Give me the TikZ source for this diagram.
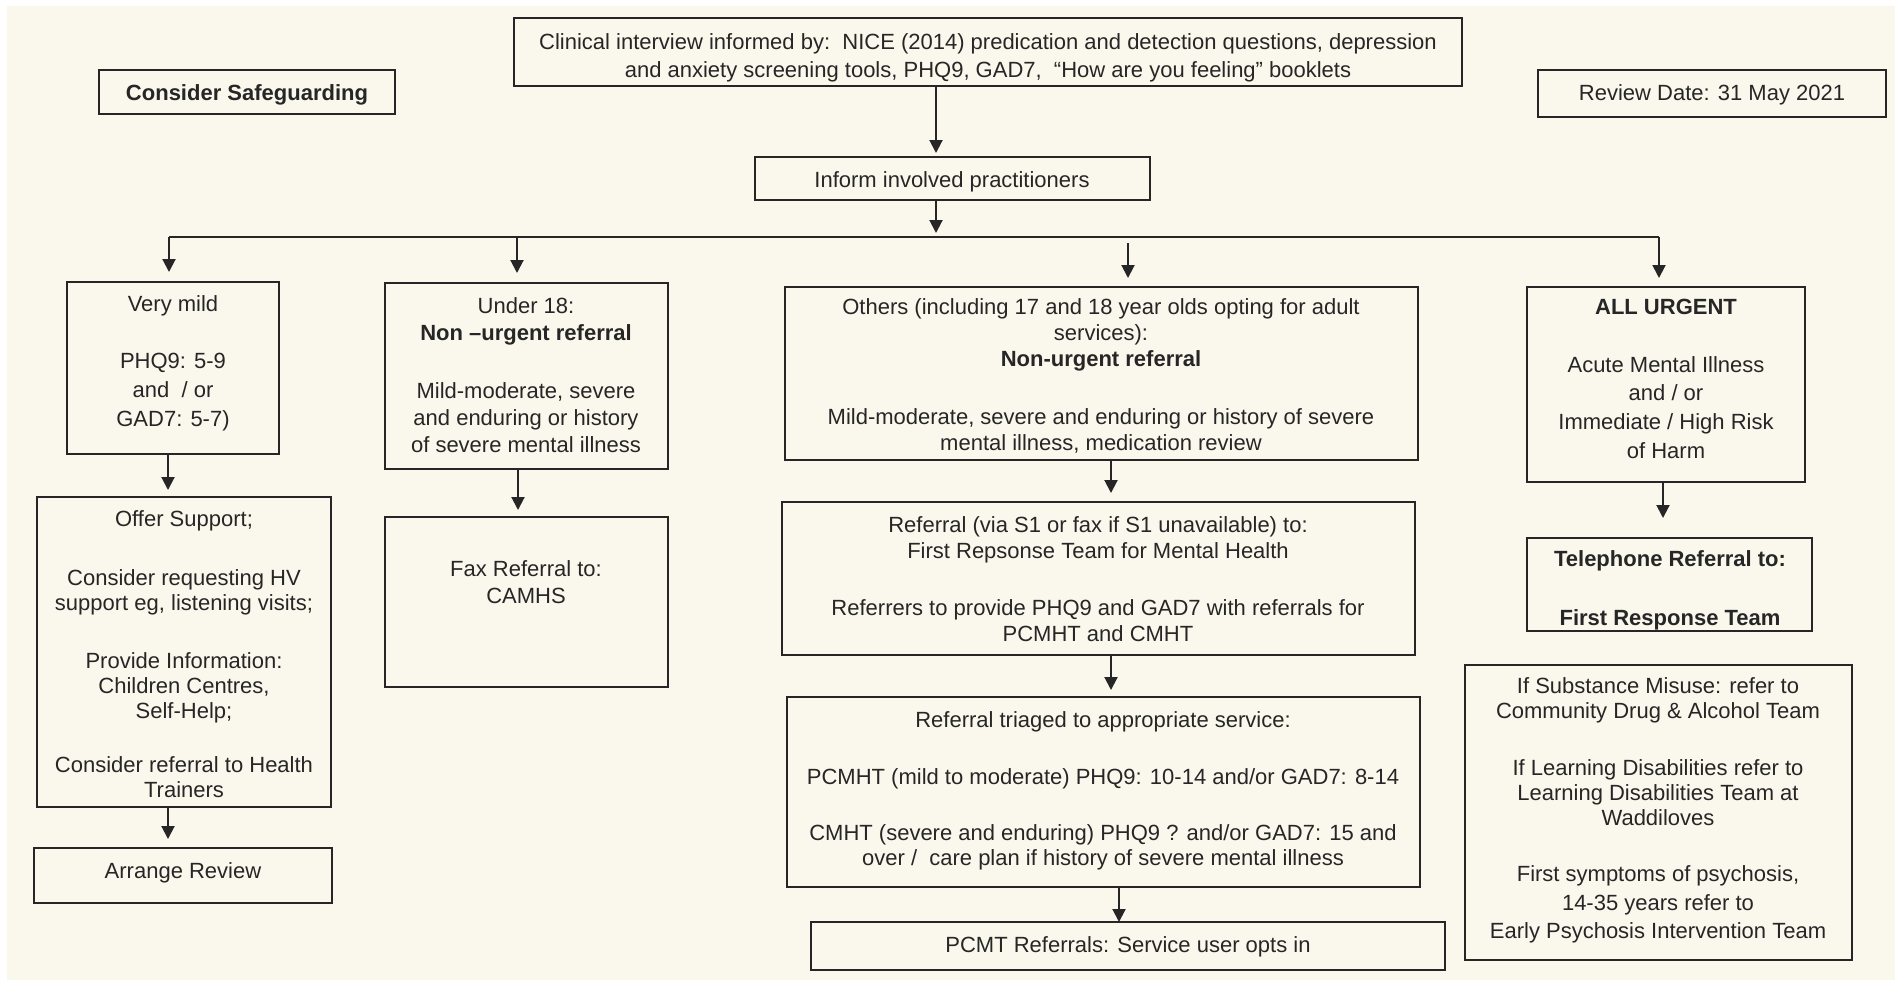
\documentclass[tikz,border=0pt]{standalone}
\usepackage{fontspec}
\setmainfont{Liberation Sans}
\usetikzlibrary{arrows.meta}
\definecolor{paper}{RGB}{250,248,236}
\definecolor{ink}{RGB}{38,38,38}

% rectangle node given by its top-left and bottom-right corners (in px units)
\newcommand\flowbox[5]{\node[box, minimum width={(#4-#2)*0.5pt}, minimum height={(#5-#3)*0.5pt}] (#1) at (#2,#3) {};}

\begin{document}
\begin{tikzpicture}[x=0.5pt,y=-0.5pt,
  box/.style={draw=ink, line width=1.1pt, anchor=north west, inner sep=0pt, outer sep=0pt},
  % texts are placed by the baseline of their last line
  txt/.style={anchor=base, align=center, text=ink, inner sep=0pt},
  arr/.style={draw=ink, line width=1pt, -{Triangle[width=6.5pt,length=6.5pt]}},
  wire/.style={draw=ink, line width=1pt},
]
\useasboundingbox (0,0) rectangle (1895,982);
\fill[paper] (0,0) rectangle (1895,982);
\fill[white] (0,0) rectangle (1895,6);
\fill[white] (0,0) rectangle (7,982);
\fill[white] (0,980) rectangle (1895,982);

% boxes
\flowbox{clin}{514}{18}{1462}{86}
\flowbox{safe}{99}{70}{395}{114}
\flowbox{rev}{1538}{70}{1886}{117}
\flowbox{inform}{755}{157}{1150}{200}
\flowbox{vmild}{67}{282}{279}{454}
\flowbox{u18}{385}{283}{668}{469}
\flowbox{others}{785}{287}{1418}{460}
\flowbox{urgent}{1527}{287}{1805}{482}
\flowbox{offer}{37}{497}{331}{807}
\flowbox{fax}{385}{517}{668}{687}
\flowbox{refer}{782}{502}{1415}{655}
\flowbox{tel}{1527}{538}{1812}{631}
\flowbox{review}{34}{848}{332}{903}
\flowbox{triage}{787}{697}{1420}{887}
\flowbox{pcmt}{811}{922}{1445}{970}
\flowbox{info}{1465}{665}{1852}{960}

% texts
\node[txt, font=\fontsize{11}{14}\selectfont] (clint) at (988,77)
  {Clinical interview informed by:\ \ NICE (2014) predication and detection questions, depression\\
   and anxiety screening tools, PHQ9, GAD7,\ \ ``How are you feeling'' booklets};
\node[txt, font=\fontsize{11}{14}\selectfont\bfseries] (safet) at (247,100) {Consider Safeguarding};
\node[txt, font=\fontsize{11}{14}\selectfont] (revt) at (1712,100) {Review Date: 31 May 2021};
\node[txt, font=\fontsize{11}{14}\selectfont] (informt) at (952,187) {Inform involved practitioners};

\node[txt, font=\fontsize{11}{14.5}\selectfont] (vmildt) at (173,426)
  {Very mild\\[14pt] PHQ9: 5-9\\ and\ \ / or\\ GAD7: 5-7)};
\node[txt, font=\fontsize{11}{13.5}\selectfont] (u18t) at (526,452)
  {Under 18:\\ \textbf{Non –urgent referral}\\[15.5pt]
   Mild-moderate, severe\\ and enduring or history\\ of severe mental illness};
\node[txt, font=\fontsize{11}{13}\selectfont] (otherst) at (1101,450)
  {Others (including 17 and 18 year olds opting for adult\\ services):\\ \textbf{Non-urgent referral}\\[16pt]
   Mild-moderate, severe and enduring or history of severe\\ mental illness, medication review};
\node[txt, font=\fontsize{11}{14.3}\selectfont] (urgentt) at (1666,458)
  {\textbf{ALL URGENT}\\[14.7pt] Acute Mental Illness\\ and / or\\ Immediate / High Risk\\ of Harm};

\node[txt, font=\fontsize{11}{12.5}\selectfont] (offert) at (184,797)
  {Offer Support;\\[17pt]
   Consider requesting HV\\ support eg, listening visits;\\[16.5pt]
   Provide Information:\\ Children Centres,\\ Self-Help;\\[14.5pt]
   Consider referral to Health\\ Trainers};
\node[txt, font=\fontsize{11}{13.5}\selectfont] (faxt) at (526,603) {Fax Referral to:\\ CAMHS};
\node[txt, font=\fontsize{11}{13}\selectfont] (refert) at (1098,641)
  {Referral (via S1 or fax if S1 unavailable) to:\\ First Repsonse Team for Mental Health\\[15.5pt]
   Referrers to provide PHQ9 and GAD7 with referrals for\\ PCMHT and CMHT};
% the last line runs into the lower edge of its box
\begin{scope}
  \clip (tel.north west) rectangle (tel.south east);
  \node[txt, font=\fontsize{11}{14}\selectfont\bfseries] (telt) at (1670,625)
    {Telephone Referral to:\\[15.5pt] First Response Team};
\end{scope}

\node[txt, font=\fontsize{11}{14}\selectfont] (reviewt) at (183,878) {Arrange Review};
\node[txt, font=\fontsize{11}{12.5}\selectfont] (triaget) at (1103,865)
  {Referral triaged to appropriate service:\\[16pt]
   PCMHT (mild to moderate) PHQ9: 10-14 and/or GAD7: 8-14\\[15.5pt]
   CMHT (severe and enduring) PHQ9 ? and/or GAD7: 15 and\\ over /\ \ care plan if history of severe mental illness};
\node[txt, font=\fontsize{11}{14}\selectfont] (pcmtt) at (1128,952) {PCMT Referrals: Service user opts in};
\node[txt, font=\fontsize{11}{12.5}\selectfont] (infot) at (1658,938)
  {If Substance Misuse: refer to\\ Community Drug \& Alcohol Team\\[16pt]
   If Learning Disabilities refer to\\ Learning Disabilities Team at\\ Waddiloves\\[15.5pt]
   First symptoms of psychosis,\\[2pt] 14-35 years refer to\\[1.5pt] Early Psychosis Intervention Team};

% connector columns and the distribution bus
\coordinate (bus) at (0,237);
\coordinate (c0) at (936,0);
\coordinate (c1) at (169,0);
\coordinate (c2) at (517,0);
\coordinate (c3) at (1128,0);
\coordinate (c4) at (1659,0);
\coordinate (c5) at (168,0);
\coordinate (c6) at (518,0);
\coordinate (c7) at (1111,0);
\coordinate (c8) at (1119,0);
\coordinate (c9) at (1663,0);

\draw[wire] (c1 |- bus) -- (c4 |- bus);

\draw[arr, shorten >=2pt] (clin.south -| c0) -- (inform.north -| c0);
\draw[arr, shorten >=2pt] (inform.south -| c0) -- (c0 |- bus);
\draw[arr, shorten >=5pt] (c1 |- bus) -- (vmild.north -| c1);
\draw[arr, shorten >=5pt] (c2 |- bus) -- (u18.north -| c2);
\draw[arr, shorten >=4.5pt] ([yshift=-3pt]c3 |- bus) -- (others.north -| c3);
\draw[arr, shorten >=4.5pt] (c4 |- bus) -- (urgent.north -| c4);
\draw[arr, shorten >=3.5pt] (vmild.south -| c5) -- (offer.north -| c5);
\draw[arr, shorten >=4.5pt] (offer.south -| c5) -- (review.north -| c5);
\draw[arr, shorten >=3.5pt] (u18.south -| c6) -- (fax.north -| c6);
\draw[arr, shorten >=4.5pt] (others.south -| c7) -- (refer.north -| c7);
\draw[arr, shorten >=3.5pt] (refer.south -| c7) -- (triage.north -| c7);
\draw[arr] (triage.south -| c8) -- (pcmt.north -| c8);
\draw[arr, shorten >=10pt] (urgent.south -| c9) -- (tel.north -| c9);
\end{tikzpicture}
\end{document}
